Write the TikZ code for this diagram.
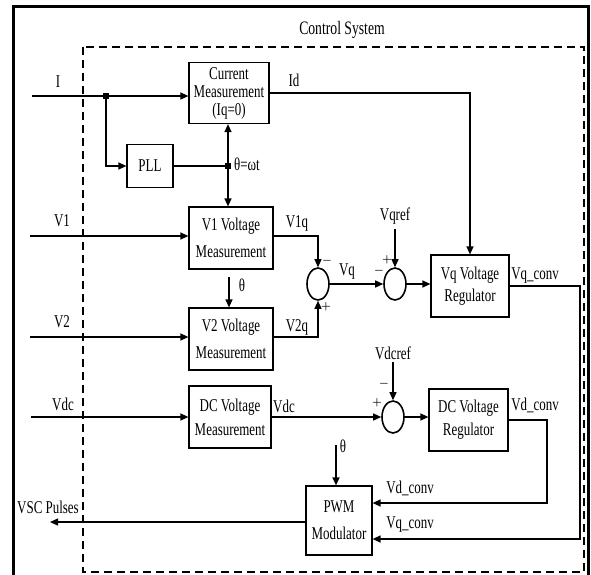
\documentclass[tikz,border=0pt]{standalone}
\usepackage{fontspec}
\setmainfont[FakeStretch=0.72]{Liberation Serif}
\usetikzlibrary{arrows.meta,shapes.geometric}
\begin{document}
\begin{tikzpicture}[x=1pt,y=-1pt,
 ln/.style={line width=1.3pt},
 arr/.style={ln,-{Triangle[length=8pt,width=7pt]}},
 blk/.style={draw,line width=1.2pt,align=center,inner sep=0pt},
 sumj/.style={draw,ellipse,line width=1.6pt,minimum width=22pt,minimum height=32pt,inner sep=0pt},
 lbl/.style={font=\fontsize{18}{20}\selectfont,inner sep=0pt},
 sgn/.style={font=\fontsize{11}{11}\selectfont\boldmath,inner sep=0pt},
 jdot/.style={fill,minimum size=6pt,inner sep=0pt}
]
\clip (0,0) rectangle (591,574);
% frames
\draw[line width=3pt] (13,580) -- (13,6) -- (588,6) -- (588,580);
\draw[line width=1.6pt,dash pattern=on 8pt off 5pt] (83,47) rectangle (584,572);
\node[lbl,font=\fontsize{19}{20}\selectfont] (title) at (342,30) {Control System};
% blocks
\node[blk,minimum width=80pt,minimum height=61pt,font=\fontsize{18}{18}\selectfont] (cm) at (229,93) {Current\\Measurement\\(Iq=0)};
\node[blk,minimum width=46pt,minimum height=43pt,font=\fontsize{18}{20}\selectfont] (pll) at (150,166) {PLL};
\node[blk,minimum width=84pt,minimum height=62pt,font=\fontsize{18}{27}\selectfont] (v1) at (231,238) {V1 Voltage\\Measurement};
\node[blk,minimum width=84pt,minimum height=62pt,font=\fontsize{18}{27}\selectfont] (v2) at (231,339) {V2 Voltage\\Measurement};
\node[blk,minimum width=82pt,minimum height=62pt,font=\fontsize{18}{24}\selectfont] (dcm) at (230,417) {DC Voltage\\Measurement};
\node[blk,minimum width=78pt,minimum height=62pt,font=\fontsize{18}{22}\selectfont] (vqr) at (470,286) {Vq Voltage\\Regulator};
\node[blk,minimum width=79pt,minimum height=62pt,font=\fontsize{18}{23}\selectfont] (dcr) at (468.5,420) {DC Voltage\\Regulator};
\node[blk,minimum width=66pt,minimum height=69pt,font=\fontsize{18}{27}\selectfont] (pwm) at (339,520.5) {PWM\\Modulator};
\node[sumj] (s1) at (318,284) {};
\node[sumj] (s2) at (395,284) {};
\node[sumj] (s3) at (393,417) {};
% I and PLL
\coordinate (iin) at (32,96);
\node[jdot] (j1) at (106,96) {};
\coordinate (jpl) at (106,166);
\node[jdot] (jt) at (228,166) {};
\draw[arr] (iin) -- (iin -| cm.west);
\draw[arr] (j1) -- (jpl) -- (pll.west);
\draw[ln] (pll.east) -- (jt);
\draw[arr] (jt) -- (jt |- cm.south);
\draw[arr] (jt) -- (jt |- v1.north);
% V1, V2
\coordinate (v1in) at (30,236);
\coordinate (v2in) at (30,337);
\draw[arr] (v1in) -- (v1in -| v1.west);
\draw[arr] (v2in) -- (v2in -| v2.west);
\draw[arr] (v1.east |- v1in) -| (s1.north);
\draw[arr] (v2.east |- v2in) -| (s1.south);
\coordinate (th1) at (229,277);
\draw[arr] (th1) -- (th1 |- v2.north);
\draw[arr] (s1.east) -- (s2.west);
\coordinate (vqref) at (395,229);
\draw[arr] (vqref) -- (s2.north);
\draw[arr] (s2.east) -- (s2.east -| vqr.west);
\draw[arr] (cm.east) -| (vqr.north);
% DC
\coordinate (vdcin) at (31,417);
\draw[arr] (vdcin) -- (vdcin -| dcm.west);
\draw[arr] (dcm.east) -- (s3.west);
\coordinate (vdcref) at (393,362);
\draw[arr] (vdcref) -- (s3.north);
\draw[arr] (s3.east) -- (s3.east -| dcr.west);
% to PWM
\coordinate (vqk) at (580,539);
\coordinate (vdk) at (547,503);
\draw[arr] (vqr.east) -| (vqk) -- (vqk -| pwm.east);
\draw[arr] (dcr.east) -| (vdk) -- (vdk -| pwm.east);
\coordinate (th2) at (336,445);
\draw[arr] (th2) -- (th2 |- pwm.north);
\coordinate (vsc) at (50,522);
\draw[arr] (vsc -| pwm.west) -- (vsc);
% labels
\node[lbl] (lI) at (58,82) {I};
\node[lbl] (lV1) at (62,221) {V1};
\node[lbl] (lV2) at (62,322) {V2};
\node[lbl] (lVdc) at (63,404) {Vdc};
\node[lbl] (lId) at (294,80) {Id};
\node[lbl,anchor=west] (lth) at (234,164) {θ=ωt};
\node[lbl] (lV1q) at (297,223) {V1q};
\node[lbl] (lV2q) at (297,327) {V2q};
\node[lbl] (lth1) at (242,285) {θ};
\node[lbl] (lVq) at (347,272) {Vq};
\node[lbl] (lVqref) at (395,216) {Vqref};
\node[lbl] (lVdcref) at (393,353) {Vdcref};
\node[lbl] (lVdc2) at (284,406) {Vdc};
\node[lbl] (lVqc) at (535,276) {Vq\_conv};
\node[lbl] (lVdc3) at (535,405) {Vd\_conv};
\node[lbl] (lVdp) at (410,488) {Vd\_conv};
\node[lbl] (lVqp) at (410,525) {Vq\_conv};
\node[lbl] (lth2) at (343,446) {θ};
\node[lbl] (lvsc) at (48,507) {VSC Pulses};
% signs
\node[sgn] (m1) at (327,261) {$-$};
\node[sgn] (p1) at (326,307) {$+$};
\node[sgn] (p2) at (387,260) {$+$};
\node[sgn] (m2) at (379,271) {$-$};
\node[sgn] (p3) at (377,403) {$+$};
\node[sgn] (m3) at (384,384) {$-$};
\end{tikzpicture}
\end{document}
